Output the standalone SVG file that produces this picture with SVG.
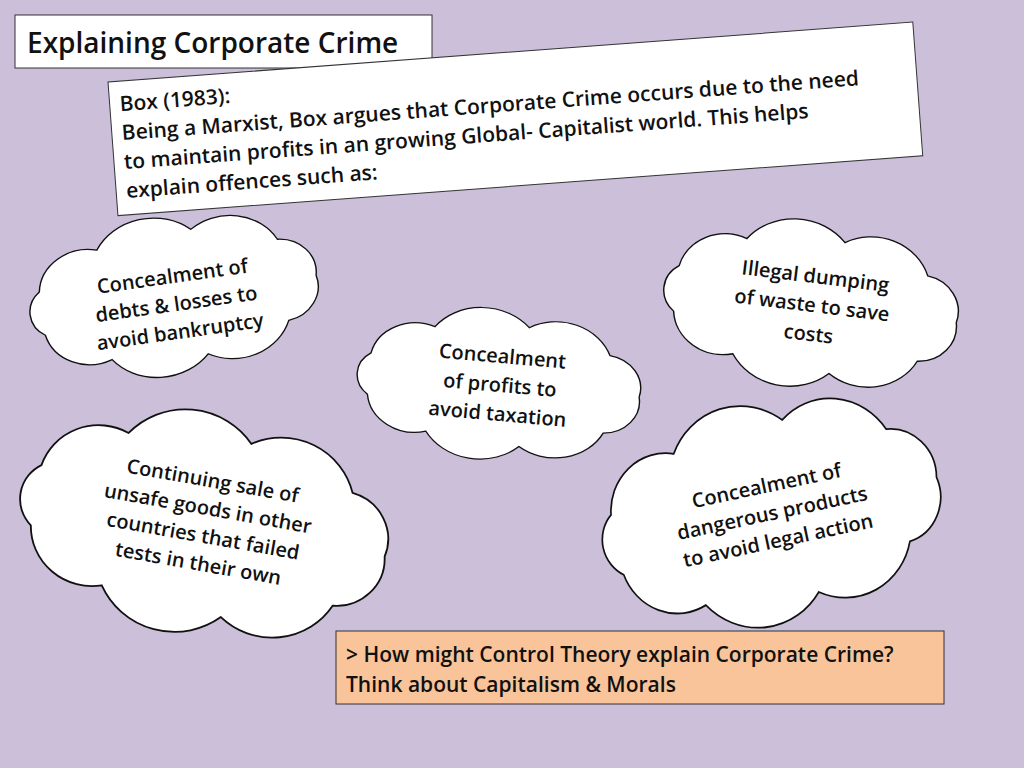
<svg xmlns="http://www.w3.org/2000/svg" width="1024" height="768" viewBox="0 0 1024 768">
<style>
text{font-family:"Open Sans",Lato,sans-serif;fill:#111;font-weight:600}
.c{fill:#fff;stroke:#111;stroke-width:1.5}
.ct{font-size:20px;text-anchor:middle}
</style>
<defs>
<path id="cl" d="M150,0 A40,40 0 0 1 114.9,48.2 A60,60 0 0 1 26,73.9 A65,65 0 0 1 -75,65 A50,50 0 0 1 -141,25.7 A32,32 0 0 1 -141,-25.7 A50,50 0 0 1 -75,-65 A65,65 0 0 1 26,-73.9 A60,60 0 0 1 114.9,-48.2 A40,40 0 0 1 150,0 Z" transform="scale(0.95,0.85)"/>
</defs>
<rect width="1024" height="768" fill="#cbbfd9"/>
<g id="title"><rect x="15" y="15" width="417" height="53" fill="#fff" stroke="#333"/>
<text x="27" y="53" font-size="28">Explaining Corporate Crime</text></g>
<g id="box" transform="rotate(-4.26 108 82)">
<rect x="108" y="82" width="807" height="134" fill="#fff" stroke="#333"/>
<text x="118" y="112" font-size="21">Box (1983):</text>
<text x="118" y="141" font-size="21">Being a Marxist, Box argues that Corporate Crime occurs due to the need</text>
<text x="118" y="170" font-size="21">to maintain profits in an growing Global- Capitalist world. This helps</text>
<text x="118" y="199" font-size="21">explain offences such as:</text>
</g>
<g id="n1" transform="translate(175,295) rotate(-8)"><use href="#cl" class="c"/>
<text class="ct" y="-12">Concealment of</text><text class="ct" y="16">debts &amp; losses to</text><text class="ct" y="44">avoid bankruptcy</text></g>
<g id="n2" transform="translate(500,385) rotate(5)"><use href="#cl" class="c" transform="scale(0.98,0.95)"/>
<text class="ct" y="-22">Concealment</text><text class="ct" y="7">of profits to</text><text class="ct" y="36">avoid taxation</text></g>
<g id="n3" transform="translate(812,305) rotate(7)"><use href="#cl" class="c" transform="scale(1.02,1.05)"/>
<text class="ct" y="-22">Illegal dumping</text><text class="ct" y="7">of waste to save</text><text class="ct" y="36">costs</text></g>
<g id="n4" transform="translate(205,525) rotate(10)"><use href="#cl" class="c" transform="scale(1.28,1.4)"/>
<text class="ct" y="-38">Continuing sale of</text><text class="ct" y="-10">unsafe goods in other</text><text class="ct" y="18">countries that failed</text><text class="ct" y="46">tests in their own</text></g>
<g id="n5" transform="translate(772,512) rotate(-12)"><use href="#cl" class="c" transform="scale(1.18,1.4)"/>
<text class="ct" y="-20">Concealment of</text><text class="ct" y="8">dangerous products</text><text class="ct" y="36">to avoid legal action</text></g>
<g id="q"><rect x="336" y="631" width="608" height="73" fill="#f9c49a" stroke="#333"/>
<text x="346" y="662" font-size="21">&gt; How might Control Theory explain Corporate Crime?</text>
<text x="346" y="692" font-size="21">Think about Capitalism &amp; Morals</text></g>
<g id="connectors"/>
</svg>
